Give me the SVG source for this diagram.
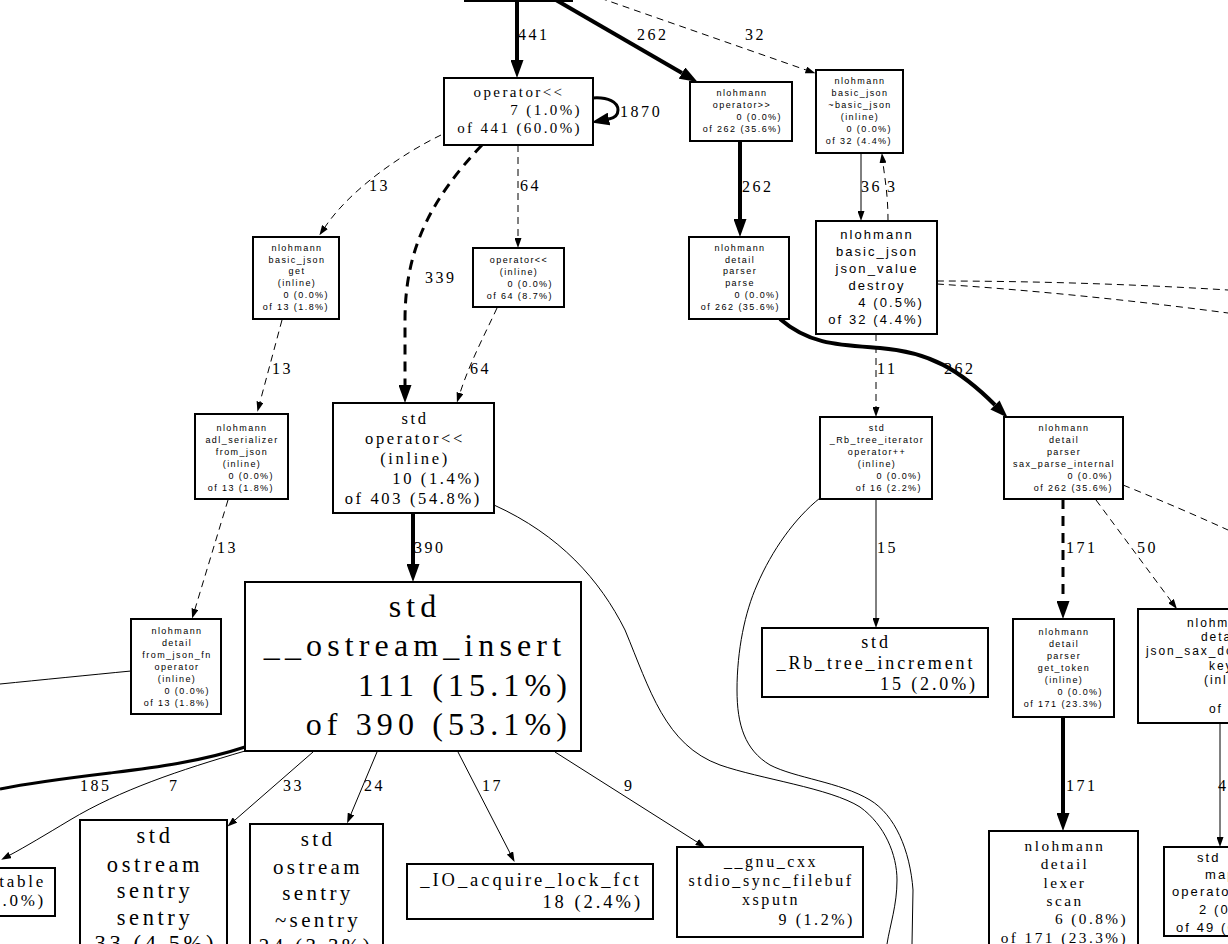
<svg xmlns="http://www.w3.org/2000/svg" width="1228" height="944" viewBox="0 0 1228 944">
<style>
.n{fill:#fff;stroke:#000;stroke-width:2}
.e{fill:none;stroke:#000;stroke-width:1}
.d{stroke-dasharray:7,5}
.t{stroke-width:4}
.tm{stroke-width:3}
.dt{stroke-dasharray:10,7}
text{fill:#000;letter-spacing:0.16em}
.s{font-family:"Liberation Sans",Arial,sans-serif}
.r{font-family:"Liberation Serif","Times New Roman",serif}
.m{text-anchor:middle}
.x{text-anchor:end}
.l{font-family:"Liberation Serif","Times New Roman",serif;font-size:16px}
</style>
<defs>
<marker id="a1" viewBox="0 0 10 7" refX="0" refY="3.5" markerWidth="10" markerHeight="7" markerUnits="userSpaceOnUse" orient="auto"><path d="M0,0L10,3.5L0,7z"/></marker>
<marker id="a2" viewBox="0 0 18 13" refX="0" refY="6.5" markerWidth="18" markerHeight="13" markerUnits="userSpaceOnUse" orient="auto"><path d="M0,0L18,6.5L0,13z"/></marker>
</defs>
<rect width="1228" height="944" fill="#fff"/>
<g id="edges">
<path class="e t" d="M517,1L517,60" marker-end="url(#a2)"/>
<path class="e t" d="M556,0L682,73" marker-end="url(#a2)"/>
<path class="e d" d="M600,-2L806,70" marker-end="url(#a1)"/>
<path class="e tm" d="M593,98C608,97 618,102 618,110C618,116 614,118 609,119" marker-end="url(#a2)"/>
<path class="e d" d="M441,135C400,155 350,190 325,227" marker-end="url(#a1)"/>
<path class="e tm dt" d="M482,145C430,200 405,250 405,320L405,385" marker-end="url(#a2)"/>
<path class="e d" d="M518,145L518,238" marker-end="url(#a1)"/>
<path class="e d" d="M282,320L260,402" marker-end="url(#a1)"/>
<path class="e d" d="M497,308C487,330 470,362 460,393" marker-end="url(#a1)"/>
<path class="e d" d="M228,500L195,609" marker-end="url(#a1)"/>
<path class="e t" d="M413,513L413,564" marker-end="url(#a2)"/>
<path class="e" d="M494,505C560,535 600,580 625,630C650,690 665,745 720,765C760,779 830,788 860,807C885,825 897,855 897,880C897,905 890,925 887,944"/>
<path class="e tm" d="M245,747C200,762 150,768 110,773C60,779 25,784 0,789"/>
<path class="e" d="M245,751C180,770 120,790 70,820C45,835 25,847 10,855" marker-end="url(#a1)"/>
<path class="e" d="M313,752L235,820" marker-end="url(#a1)"/>
<path class="e" d="M377,752L351,814" marker-end="url(#a1)"/>
<path class="e" d="M458,752L510,853" marker-end="url(#a1)"/>
<path class="e" d="M555,752L697,842" marker-end="url(#a1)"/>
<path class="e t" d="M740,141L740,219" marker-end="url(#a2)"/>
<path class="e" d="M861,153L861,211" marker-end="url(#a1)"/>
<path class="e d" d="M888,221C888,195 885,180 883,163" marker-end="url(#a1)"/>
<path class="e d" d="M937,281C1030,281 1130,284 1228,290"/>
<path class="e d" d="M937,284C1030,290 1130,300 1228,313"/>
<path class="e d" d="M876,334L876,407" marker-end="url(#a1)"/>
<path class="e t" d="M780,319C810,345 840,345 880,348C930,352 960,370 995,405" marker-end="url(#a2)"/>
<path class="e" d="M876,499L876,618" marker-end="url(#a1)"/>
<path class="e" d="M820,498C795,518 772,550 757,585C745,612 737,650 737,690C737,725 745,750 770,765C795,778 840,782 870,800C895,815 910,850 913,890L912,944"/>
<path class="e tm dt" d="M1063,499L1063,601" marker-end="url(#a2)"/>
<path class="e d" d="M1096,500L1171,601" marker-end="url(#a1)"/>
<path class="e d" d="M1123,485C1160,500 1195,515 1228,530"/>
<path class="e t" d="M1063,717L1063,813" marker-end="url(#a2)"/>
<path class="e" d="M1220,723L1220,837" marker-end="url(#a1)"/>
<path class="e" d="M131,671C90,675 40,680 0,684"/>
<g class="l">
<text x="518" y="40">441</text>
<text x="637" y="40">262</text>
<text x="745" y="40">32</text>
<text x="620" y="117">1870</text>
<text x="369" y="191">13</text>
<text x="520" y="191">64</text>
<text x="425" y="283">339</text>
<text x="742" y="192">262</text>
<text x="861" y="192">36</text>
<text x="887" y="192">3</text>
<text x="272" y="374">13</text>
<text x="470" y="374">64</text>
<text x="877" y="374">11</text>
<text x="944" y="374">262</text>
<text x="217" y="553">13</text>
<text x="414" y="553">390</text>
<text x="877" y="553">15</text>
<text x="1066" y="553">171</text>
<text x="1137" y="553">50</text>
<text x="80" y="791">185</text>
<text x="169" y="791">7</text>
<text x="283" y="791">33</text>
<text x="364" y="791">24</text>
<text x="482" y="791">17</text>
<text x="624" y="791">9</text>
<text x="1066" y="791">171</text>
<text x="1218" y="791">49</text>
</g>
</g>
<g id="n_top"><rect class="n" x="465" y="-40" width="107" height="41"/></g>
<g id="n_op_shl" class="r" font-size="15">
<rect class="n" x="444" y="78" width="149" height="67"/>
<text class="m" x="519" y="97">operator&lt;&lt;</text>
<text class="x" x="582" y="115">7 (1.0%)</text>
<text class="x" x="582" y="133">of 441 (60.0%)</text>
</g>
<g id="n_op_shr" class="s" font-size="9">
<rect class="n" x="690" y="82" width="102" height="59"/>
<text class="m" x="742" y="96">nlohmann</text>
<text class="m" x="742" y="108">operator&gt;&gt;</text>
<text class="x" x="782" y="120">0 (0.0%)</text>
<text class="x" x="782" y="132">of 262 (35.6%)</text>
</g>
<g id="n_dtor" class="s" font-size="9">
<rect class="n" x="816" y="70" width="87" height="83"/>
<text class="m" x="860" y="84">nlohmann</text>
<text class="m" x="860" y="96">basic_json</text>
<text class="m" x="860" y="108">~basic_json</text>
<text class="m" x="860" y="120">(inline)</text>
<text class="x" x="892" y="132">0 (0.0%)</text>
<text class="x" x="892" y="144">of 32 (4.4%)</text>
</g>
<g id="n_get" class="s" font-size="9">
<rect class="n" x="253" y="237" width="86" height="82"/>
<text class="m" x="297" y="251">nlohmann</text>
<text class="m" x="297" y="263">basic_json</text>
<text class="m" x="297" y="274">get</text>
<text class="m" x="297" y="286">(inline)</text>
<text class="x" x="329" y="298">0 (0.0%)</text>
<text class="x" x="329" y="310">of 13 (1.8%)</text>
</g>
<g id="n_op_shl_inl" class="s" font-size="9">
<rect class="n" x="473" y="248" width="91" height="59"/>
<text class="m" x="519" y="263">operator&lt;&lt;</text>
<text class="m" x="519" y="275">(inline)</text>
<text class="x" x="553" y="287">0 (0.0%)</text>
<text class="x" x="553" y="299">of 64 (8.7%)</text>
</g>
<g id="n_parse" class="s" font-size="9">
<rect class="n" x="689" y="237" width="100" height="82"/>
<text class="m" x="740" y="251">nlohmann</text>
<text class="m" x="740" y="263">detail</text>
<text class="m" x="740" y="274">parser</text>
<text class="m" x="740" y="286">parse</text>
<text class="x" x="780" y="298">0 (0.0%)</text>
<text class="x" x="780" y="310">of 262 (35.6%)</text>
</g>
<g id="n_destroy" class="s" font-size="13">
<rect class="n" x="816" y="221" width="121" height="113"/>
<text class="m" x="877" y="239">nlohmann</text>
<text class="m" x="877" y="256">basic_json</text>
<text class="m" x="877" y="273">json_value</text>
<text class="m" x="877" y="290">destroy</text>
<text class="x" x="924" y="307">4 (0.5%)</text>
<text class="x" x="924" y="324">of 32 (4.4%)</text>
</g>
<g id="n_adl" class="s" font-size="9">
<rect class="n" x="195" y="414" width="93" height="85"/>
<text class="m" x="242" y="431">nlohmann</text>
<text class="m" x="242" y="443">adl_serializer</text>
<text class="m" x="242" y="455">from_json</text>
<text class="m" x="242" y="467">(inline)</text>
<text class="x" x="274" y="479">0 (0.0%)</text>
<text class="x" x="274" y="491">of 13 (1.8%)</text>
</g>
<g id="n_std_op_shl" class="r" font-size="16.5">
<rect class="n" x="333" y="403" width="161" height="110"/>
<text class="m" x="415" y="424">std</text>
<text class="m" x="415" y="444">operator&lt;&lt;</text>
<text class="m" x="415" y="464">(inline)</text>
<text class="x" x="482" y="484">10 (1.4%)</text>
<text class="x" x="482" y="504">of 403 (54.8%)</text>
</g>
<g id="n_rb_iter" class="s" font-size="9">
<rect class="n" x="820" y="417" width="112" height="82"/>
<text class="m" x="877" y="431">std</text>
<text class="m" x="877" y="443">_Rb_tree_iterator</text>
<text class="m" x="877" y="455">operator++</text>
<text class="m" x="877" y="467">(inline)</text>
<text class="x" x="922" y="479">0 (0.0%)</text>
<text class="x" x="922" y="491">of 16 (2.2%)</text>
</g>
<g id="n_sax" class="s" font-size="9">
<rect class="n" x="1004" y="417" width="119" height="82"/>
<text class="m" x="1064" y="431">nlohmann</text>
<text class="m" x="1064" y="443">detail</text>
<text class="m" x="1064" y="455">parser</text>
<text class="m" x="1064" y="467">sax_parse_internal</text>
<text class="x" x="1113" y="479">0 (0.0%)</text>
<text class="x" x="1113" y="491">of 262 (35.6%)</text>
</g>
<g id="n_from_json_fn" class="s" font-size="9">
<rect class="n" x="131" y="619" width="90" height="95"/>
<text class="m" x="177" y="634">nlohmann</text>
<text class="m" x="177" y="646">detail</text>
<text class="m" x="177" y="658">from_json_fn</text>
<text class="m" x="177" y="670">operator</text>
<text class="m" x="177" y="682">(inline)</text>
<text class="x" x="210" y="694">0 (0.0%)</text>
<text class="x" x="210" y="706">of 13 (1.8%)</text>
</g>
<g id="n_ostream_insert" class="r" font-size="32">
<rect class="n" x="245" y="582" width="336" height="169"/>
<text class="m" x="415" y="617">std</text>
<text class="m" x="415" y="656">__ostream_insert</text>
<text class="x" x="572" y="696">111 (15.1%)</text>
<text class="x" x="572" y="735">of 390 (53.1%)</text>
</g>
<g id="n_rb_inc" class="r" font-size="18">
<rect class="n" x="762" y="628" width="226" height="69"/>
<text class="m" x="876" y="648">std</text>
<text class="m" x="876" y="669">_Rb_tree_increment</text>
<text class="x" x="978" y="690">15 (2.0%)</text>
</g>
<g id="n_get_token" class="s" font-size="9">
<rect class="n" x="1013" y="619" width="101" height="98"/>
<text class="m" x="1064" y="635">nlohmann</text>
<text class="m" x="1064" y="647">detail</text>
<text class="m" x="1064" y="659">parser</text>
<text class="m" x="1064" y="671">get_token</text>
<text class="m" x="1064" y="683">(inline)</text>
<text class="x" x="1103" y="695">0 (0.0%)</text>
<text class="x" x="1103" y="707">of 171 (23.3%)</text>
</g>
<g id="n_key" class="s" font-size="12">
<rect class="n" x="1138" y="609" width="166" height="114"/>
<text x="1187" y="627">nlohmann</text>
<text x="1201" y="641">detail</text>
<text x="1146" y="655">json_sax_dom_parser</text>
<text x="1209" y="670">key</text>
<text x="1204" y="684">(inline)</text>
<text x="1246" y="698">0 (0.0%)</text>
<text x="1209" y="713">of 50 (6.8%)</text>
</g>
<g id="n_lexer" class="r" font-size="15.3">
<rect class="n" x="989" y="831" width="149" height="125"/>
<text class="m" x="1065" y="851">nlohmann</text>
<text class="m" x="1065" y="869">detail</text>
<text class="m" x="1065" y="888">lexer</text>
<text class="m" x="1065" y="906">scan</text>
<text class="x" x="1128" y="924">6 (0.8%)</text>
<text class="x" x="1128" y="943">of 171 (23.3%)</text>
</g>
<g id="n_map" class="s" font-size="13">
<rect class="n" x="1164" y="847" width="130" height="89"/>
<text x="1197" y="862">std</text>
<text x="1205" y="879">map</text>
<text x="1172" y="896">operator[]</text>
<text x="1199" y="914">2 (0.3%)</text>
<text x="1176" y="932">of 49 (6.7%)</text>
</g>
<g id="n_io_lock" class="r" font-size="18.5">
<rect class="n" x="407" y="864" width="246" height="55"/>
<text class="m" x="531" y="886">_IO_acquire_lock_fct</text>
<text class="x" x="643" y="908">18 (2.4%)</text>
</g>
<g id="n_xsputn" class="r" font-size="16">
<rect class="n" x="677" y="847" width="186" height="90"/>
<text class="m" x="771" y="867">__gnu_cxx</text>
<text class="m" x="771" y="886">stdio_sync_filebuf</text>
<text class="m" x="771" y="905">xsputn</text>
<text class="x" x="855" y="925">9 (1.2%)</text>
</g>
<g id="n_sentry" class="r" font-size="22.5">
<rect class="n" x="80" y="820" width="147" height="150"/>
<text class="m" x="155" y="843">std</text>
<text class="m" x="155" y="872">ostream</text>
<text class="m" x="155" y="898">sentry</text>
<text class="m" x="155" y="925">sentry</text>
<text class="x" x="217" y="951">33 (4.5%)</text>
</g>
<g id="n_sentry_dtor" class="r" font-size="21">
<rect class="n" x="250" y="824" width="133" height="150"/>
<text class="m" x="318" y="846">std</text>
<text class="m" x="318" y="874">ostream</text>
<text class="m" x="318" y="900">sentry</text>
<text class="m" x="318" y="927">~sentry</text>
<text class="x" x="373" y="953">24 (3.3%)</text>
</g>
<g id="n_table" class="r" font-size="17">
<rect class="n" x="-60" y="868" width="115" height="48"/>
<text class="x" x="46" y="887">table</text>
<text class="x" x="46" y="906">7 (1.0%)</text>
</g>
</svg>
